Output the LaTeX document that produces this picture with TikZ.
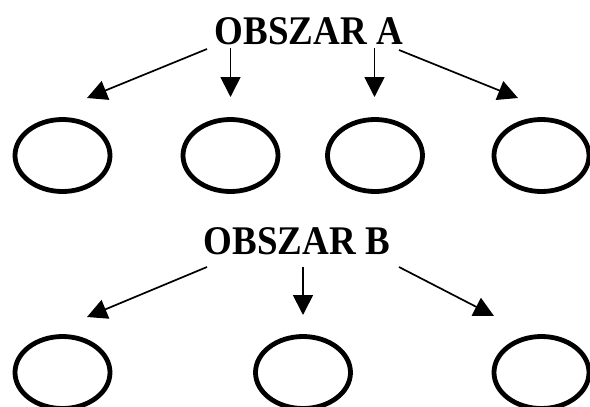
\documentclass[tikz,border=0pt]{standalone}
\usepackage{fontspec}
\setmainfont{Liberation Serif}
\usetikzlibrary{shapes.geometric,arrows.meta}
\newcommand{\tallhead}[1]{\scalebox{1}[1.1]{\bfseries\fontsize{37}{40}\selectfont #1}}
\tikzset{
  heading/.style={inner sep=0pt, anchor=center},
  oval/.style={draw, ellipse, line width=4.8pt, minimum width=95pt, minimum height=72pt, inner sep=0pt},
  arr/.style={line width=1.7pt, -{Triangle[length=20pt,width=20pt]}}
}
\begin{document}
\begin{tikzpicture}[x=1pt,y=-1pt]
\useasboundingbox (0,0) rectangle (590,407);
% headings
\node[heading] (tA) at (309,31.5) {\tallhead{OBSZAR A}};
\node[heading] (tB) at (297,241) {\tallhead{OBSZAR B}};
% row A ovals
\node[oval] (eA1) at (62.5,155.5) {};
\node[oval] (eA2) at (230.5,155.5) {};
\node[oval] (eA3) at (375,155.5) {};
\node[oval] (eA4) at (541.5,155.5) {};
% row B ovals
\node[oval] (eB1) at (62.5,372.5) {};
\node[oval] (eB2) at (303,372.5) {};
\node[oval] (eB3) at (541.5,372.5) {};
% arrow ends
\coordinate (a1s) at (207,49);  \coordinate (a1e) at (87,98);
\coordinate (a2s) at (230.5,48);  \coordinate (a2e) at (230.5,97);
\coordinate (a3s) at (374.5,48);  \coordinate (a3e) at (374.5,97);
\coordinate (a4s) at (399,50);  \coordinate (a4e) at (518,98);
\coordinate (b1s) at (207,267); \coordinate (b1e) at (87,317);
\coordinate (b2s) at (303,267); \coordinate (b2e) at (303,315);
\coordinate (b3s) at (399,267); \coordinate (b3e) at (494,316);
\draw[arr] (a1s) -- (a1e);
\draw[arr] (a2s) -- (a2e);
\draw[arr] (a3s) -- (a3e);
\draw[arr] (a4s) -- (a4e);
\draw[arr] (b1s) -- (b1e);
\draw[arr] (b2s) -- (b2e);
\draw[arr] (b3s) -- (b3e);
\end{tikzpicture}
\end{document}
